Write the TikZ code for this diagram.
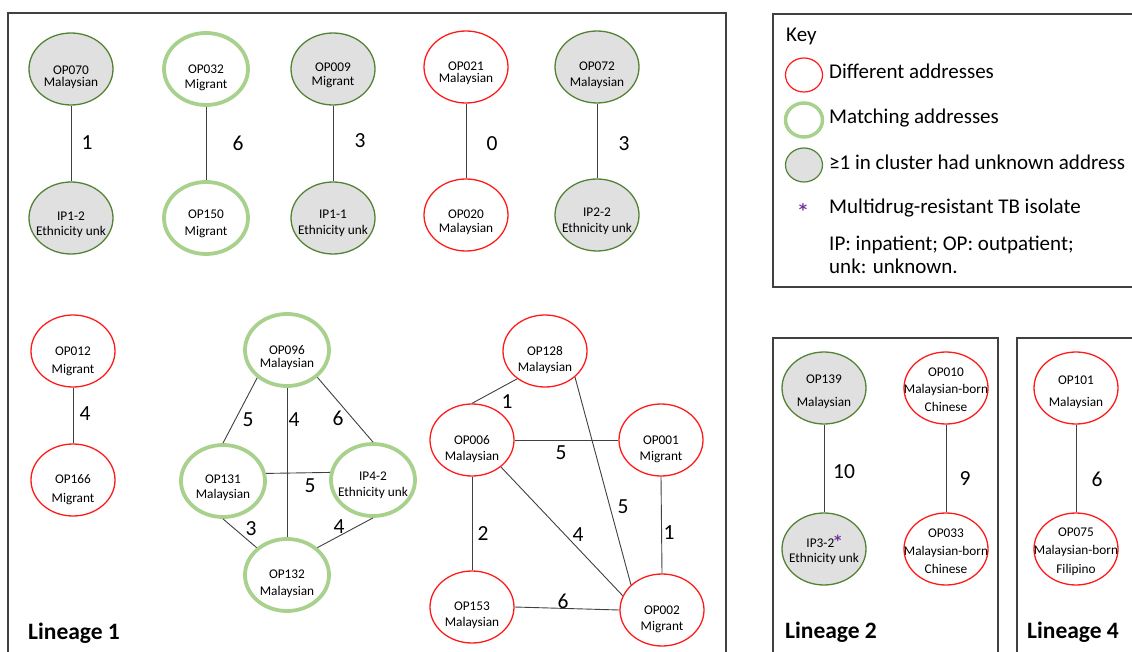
\documentclass[tikz,border=0pt]{standalone}
\usepackage{fontspec}
\setmainfont{Carlito}
\newfontfamily\astfont{DejaVu Sans Bold}
\usetikzlibrary{shapes.geometric}
\definecolor{redc}{HTML}{FF1A1A}
\definecolor{dgreen}{HTML}{548235}
\definecolor{lgreen}{HTML}{A9D18E}
\definecolor{greyfill}{HTML}{E0E0E0}
\definecolor{purp}{HTML}{7030A0}
\definecolor{edgec}{HTML}{404040}
\definecolor{framec}{HTML}{404040}
\tikzset{
 base/.style={ellipse, minimum width=84pt, minimum height=72pt, inner sep=0pt},
 diff/.style={base, draw=redc, line width=1.3pt},
 match/.style={base, draw=lgreen, line width=3.8pt},
 unk/.style={base, draw=dgreen, fill=greyfill, line width=1.3pt},
 ntext/.style={align=center, inner sep=0pt},
 elab/.style={font=\fontsize{21.5}{24}\selectfont, inner sep=0pt},
 link/.style={draw=edgec, line width=0.9pt},
 frame/.style={draw=framec, line width=1.4pt},
 lin/.style={font=\fontsize{23.5}{26}\selectfont\bfseries, anchor=base west, inner sep=0pt},
 keyt/.style={font=\fontsize{21}{23}\selectfont, anchor=base west, inner sep=0pt},
 kbase/.style={ellipse, minimum width=37pt, minimum height=34pt, inner sep=0pt},
}
\newcommand\isonode[6]{%
 \node[#2] (#1) at (#3) {};
 \node[ntext, font=\fontsize{13.3}{#5}\selectfont] (#1t) at ([yshift=-#4pt]#1.center) {#6};}
\begin{document}
\begin{tikzpicture}[x=1pt,y=-1pt]
\useasboundingbox (0,0) rectangle (1132,652);
\clip (0,0) rectangle (1132,652);
% frames
\draw[frame] (8,13) rectangle (726,670);
\draw[frame] (773,14) rectangle (1145,287);
\draw[frame] (773,338) rectangle (998,670);
\draw[frame] (1017,338) rectangle (1145,670);

% top row
\isonode{OP070}{unk}{71,69}{8}{12}{OP070\\Malaysian}
\isonode{ip12}{unk}{71,218}{6.5}{15}{IP1-2\\Ethnicity unk}
\isonode{OP032}{match}{206,69}{8.5}{15}{OP032\\Migrant}
\isonode{OP150}{match}{206,218}{5.5}{17}{OP150\\Migrant}
\isonode{OP009}{unk}{333,69}{6}{14}{OP009\\Migrant}
\isonode{ip11}{unk}{333,218}{5}{16}{IP1-1\\Ethnicity unk}
\isonode{OP021}{diff}{466,67}{6}{12}{OP021\\Malaysian}
\isonode{OP020}{diff}{466,215}{7}{14}{OP020\\Malaysian}
\isonode{OP072}{unk}{597,67}{8}{16}{OP072\\Malaysian}
\isonode{ip22}{unk}{597,215}{6}{16}{IP2-2\\Ethnicity unk}
\draw[link] (OP070) -- (ip12);
\draw[link] (OP032) -- (OP150);
\draw[link] (OP009) -- (ip11);
\draw[link] (OP021) -- (OP020);
\draw[link] (OP072) -- (ip22);
\node[elab] (l1) at (87,143) {1};
\node[elab] (l2) at (238,143) {6};
\node[elab] (l3) at (360,141) {3};
\node[elab] (l4) at (492,144) {0};
\node[elab] (l5) at (624,144) {3};

% bottom left
\isonode{OP012}{diff}{73,351}{10}{18}{OP012\\Migrant}
\isonode{OP166}{diff}{73,480}{9.5}{19}{OP166\\Migrant}
\draw[link] (OP012) -- (OP166);
\node[elab] (l6) at (85,414) {4};

\isonode{OP096}{match}{287,350}{7.5}{13}{OP096\\Malaysian}
\isonode{OP131}{match}{223,481}{6.5}{15}{OP131\\Malaysian}
\isonode{ip42}{match}{373,480}{5}{16}{IP4-2\\Ethnicity unk}
\isonode{OP132}{match}{287,575}{8.5}{17}{OP132\\Malaysian}
\draw[link] (OP096.223) -- (OP131.north);
\draw[link] (OP096.south) -- (OP132.north);
\draw[link] (OP096.318) -- (ip42.north);
\draw[link] (OP131.10) -- (ip42.170);
\draw[link] (OP131.south) -- (OP132.138);
\draw[link] (ip42.south) -- (OP132.42);
\node[elab] (l7) at (248,420) {5};
\node[elab] (l8) at (294,420) {4};
\node[elab] (l9) at (338,418) {6};
\node[elab] (l10) at (310,486) {5};
\node[elab] (l11) at (251,529) {3};
\node[elab] (l12) at (339,527) {4};

% right cluster
\isonode{OP128}{diff}{545,351}{9}{16}{OP128\\Malaysian}
\isonode{OP006}{diff}{472,440}{9}{16}{OP006\\Malaysian}
\isonode{OP001}{diff}{661,440}{9}{16}{OP001\\Migrant}
\isonode{OP153}{diff}{472,607}{8}{16}{OP153\\Malaysian}
\isonode{OP002}{diff}{662,610}{9}{16}{OP002\\Migrant}
\draw[link] (OP128.225) -- (OP006.north);
\draw[link] (OP006) -- (OP001);
\draw[link] (OP128.319) -- (OP002.141);
\draw[link] (OP006.317) -- (OP002.160);
\draw[link] (OP006) -- (OP153);
\draw[link] (OP001.south) -- (OP002.north);
\draw[link] (OP153.east) -- (OP002.west);
\node[elab] (l13) at (507,402) {1};
\node[elab] (l14) at (561,453) {5};
\node[elab] (l15) at (623,507) {5};
\node[elab] (l16) at (578,535) {4};
\node[elab] (l17) at (483,534) {2};
\node[elab] (l18) at (669,533) {1};
\node[elab] (l19) at (563,601) {6};

\node[lin] (lin1) at (28,639) {Lineage 1};

% lineage 2
\isonode{OP139}{unk}{824,388}{3.5}{23}{OP139\\Malaysian}
\isonode{ip32}{unk}{824,549}{1}{15}{IP3-2\raisebox{2.5pt}{\color{purp}\astfont\fontsize{14}{14}\selectfont *}\\Ethnicity unk}
\isonode{OP010}{diff}{946,388}{1.5}{17.5}{OP010\\Malaysian-born\\Chinese}
\isonode{OP033}{diff}{946,549}{2}{18}{OP033\\Malaysian-born\\Chinese}
\draw[link] (OP139) -- (ip32);
\draw[link] (OP010) -- (OP033);
\node[elab] (l20) at (844,472) {10};
\node[elab] (l21) at (965,479) {9};
\node[lin] (lin2) at (785,638) {Lineage 2};

% lineage 4
\isonode{OP101}{diff}{1076,388}{4}{22}{OP101\\Malaysian}
\isonode{OP075}{diff}{1076,549}{2.5}{18.5}{OP075\\Malaysian-born\\Filipino}
\draw[link] (OP101) -- (OP075);
\node[elab] (l22) at (1097,479) {6};
\node[lin] (lin4) at (1027,638) {Lineage 4};

% key
\node[keyt] (keyh) at (786,42) {Key};
\node[kbase, draw=redc, line width=1.2pt] (kr) at (804,75) {};
\node[kbase, draw=lgreen, line width=3.5pt] (kg) at (804,120) {};
\node[kbase, draw=dgreen, fill=greyfill, line width=1.2pt] (ku) at (804,165) {};
\node[font=\astfont\fontsize{16}{16}\selectfont, text=purp, anchor=base, inner sep=0pt] (ka) at (803,215.5) {*};
\node[keyt] (kt1) at (829,79) {Different addresses};
\node[keyt] (kt2) at (829,124) {Matching addresses};
\node[keyt] (kt3) at (829,170) {≥1 in cluster had unknown address};
\node[keyt] (kt4) at (829,214) {Multidrug-resistant TB isolate};
\node[keyt] (kt5) at (829,251) {IP: inpatient; OP: outpatient;};
\node[keyt] (kt6) at (829,274) {unk: unknown.};
\end{tikzpicture}
\end{document}
